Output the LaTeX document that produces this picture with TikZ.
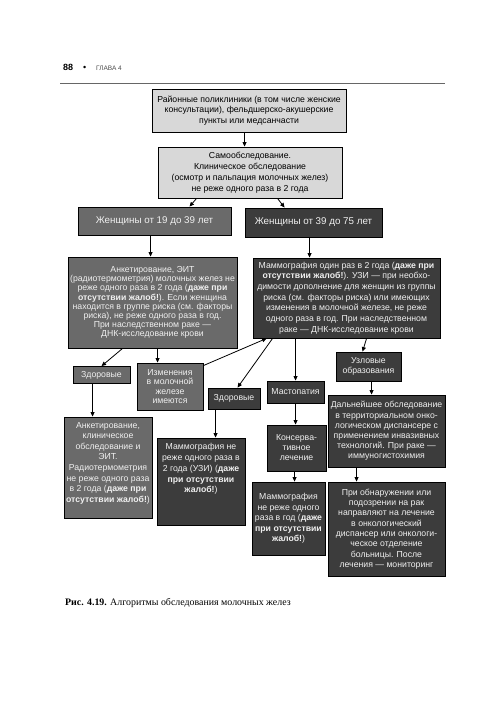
\documentclass[tikz,border=0pt]{standalone}
\usepackage{fontspec}
\setmainfont{Liberation Sans}
\newfontfamily\capfont{Liberation Serif}
\usetikzlibrary{arrows.meta}
\definecolor{lightbox}{HTML}{D8D8D8}
\definecolor{midbox}{HTML}{6A6A6A}
\definecolor{darkbox}{HTML}{3C3C3C}
\definecolor{boxtext}{HTML}{F0F0F0}
\begin{document}
\begin{tikzpicture}[x=1pt,y=-1pt,
  box/.style={draw=black, line width=0.9pt, inner sep=0pt, align=center, font=\fontsize{8.7}{10.5}\selectfont},
  lightb/.style={box, fill=lightbox, text=black},
  midb/.style={box, fill=midbox, text=boxtext},
  darkb/.style={box, fill=darkbox, text=boxtext},
  arr/.style={-{Triangle[length=4.5pt,width=4pt]}, line width=0.8pt},
  fs/.style={font=\fontsize{8.7}{#1}\selectfont}]
\useasboundingbox (0,0) rectangle (500,727);
\fill[white] (0,0) rectangle (500,727);
% header
\node[anchor=base west, inner sep=0pt, font=\bfseries\fontsize{9}{10}\selectfont] (pg) at (63,71) {88};
\node[anchor=base west, inner sep=0pt, font=\fontsize{9}{10}\selectfont] (bul) at (83,71) {•};
\node[anchor=base west, inner sep=0pt, font=\fontsize{6.5}{8}\selectfont, text=black!70] (ch) at (96,71) {ГЛАВА 4};
\draw[line width=0.5pt, black!60] (60,83) -- (445,83);
% boxes
\node[lightb, fs=10.5, minimum width=194pt, minimum height=43pt] (b1) at (249,110.5)
  {Районные поликлиники (в том числе женские\\консультации), фельдшерско-акушерские\\пункты или медсанчасти};
\node[lightb, fs=11, minimum width=184pt, minimum height=51pt] (b2) at (250,172.5)
  {Самообследование.\\Клиническое обследование\\(осмотр и пальпация молочных желез)\\не реже одного раза в 2 года};
\node[midb, font=\fontsize{9.8}{11}\selectfont, minimum width=153pt, minimum height=28pt] (w1) at (154.5,221)
  {Женщины от 19 до 39 лет};
\node[darkb, font=\fontsize{9.8}{11}\selectfont, minimum width=137pt, minimum height=29pt] (w2) at (313.5,222.5)
  {Женщины от 39 до 75 лет};
\node[midb, fs=9.2, minimum width=169pt, minimum height=91pt] (ank) at (152.5,302.5)
  {Анкетирование, ЭИТ\\(радиотермометрия) молочных желез не\\реже одного раза в 2 года (\textbf{даже при}\\\textbf{отсутствии жалоб!}). Если женщина\\находится в группе риска (см. факторы\\риска), не реже одного раза в год.\\При наследственном раке —\\ДНК-исследование крови};
\node[darkb, fs=10.7, minimum width=187pt, minimum height=80pt] (mam) at (346.5,298)
  {Маммография один раз в 2 года (\textbf{даже при}\\\textbf{отсутствии жалоб!}). УЗИ — при необхо-\\димости дополнение для женщин из группы\\риска (см. факторы риска) или имеющих\\изменения в молочной железе, не реже\\одного раза в год. При наследственном\\раке — ДНК-исследование крови};
\node[midb, minimum width=57pt, minimum height=17pt] (zd1) at (101.5,375) {Здоровые};
\node[midb, fs=9.5, minimum width=66pt, minimum height=47pt] (izm) at (170,386.5)
  {Изменения\\в молочной\\железе\\имеются};
\node[darkb, minimum width=52pt, minimum height=21pt] (zd2) at (234,398.5) {Здоровые};
\node[darkb, minimum width=57pt, minimum height=22pt] (mast) at (295.5,392) {Мастопатия};
\node[darkb, fs=10, minimum width=65pt, minimum height=29pt] (uzl) at (368.5,366.5)
  {Узловые\\образования};
\node[darkb, fs=10.2, minimum width=117pt, minimum height=72pt] (dal) at (386.5,431)
  {Дальнейшее обследование\\в территориальном онко-\\логическом диспансере с\\применением инвазивных\\технологий. При раке —\\иммуногистохимия};
\node[darkb, fs=10.3, minimum width=117pt, minimum height=94pt] (pri) at (386.5,529)
  {При обнаружении или\\подозрении на рак\\направляют на лечение\\в онкологический\\диспансер или онкологи-\\ческое отделение\\больницы. После\\лечения — мониторинг};
\node[midb, fs=10.6, minimum width=88pt, minimum height=101pt] (ank2) at (108,467.5)
  {Анкетирование,\\клиническое\\обследование и\\ЭИТ.\\Радиотермометрия\\не реже одного раза\\в 2 года (\textbf{даже при}\\\textbf{отсутствии жалоб!})\\\rule{0pt}{8pt}};
\node[darkb, fs=10.8, minimum width=88pt, minimum height=87pt] (mam2) at (201,481.5)
  {Маммография не\\реже одного раза в\\2 года (УЗИ) (\textbf{даже}\\\textbf{при отсутствии}\\\textbf{жалоб!})\\\rule{0pt}{24pt}};
\node[darkb, fs=10, minimum width=59pt, minimum height=46pt] (kons) at (296.5,448)
  {Консерва-\\тивное\\лечение};
\node[darkb, fs=10.5, minimum width=73pt, minimum height=73pt] (mam3) at (288.5,518.5)
  {Маммография\\не реже одного\\раза в год (\textbf{даже}\\\textbf{при отсутствии}\\\textbf{жалоб!})};
% connectors
\draw[arr] ([xshift=93pt]b1.south west) -- ([xshift=87pt]b2.north west);
\draw[arr] ([xshift=39pt]b2.south west) -- ([xshift=112pt]w1.north west);
\draw[arr] ([xshift=120pt]b2.south west) -- ([xshift=40pt]w2.north west);
\draw[arr] ([xshift=73pt]w1.south west) -- ([xshift=83pt]ank.north west);
\draw[arr] ([xshift=65pt]w2.south west) -- ([xshift=57pt]mam.north west);
\draw[arr] ([xshift=55pt]ank.south west) -- ([xshift=29pt]zd1.north west);
\draw[arr] ([xshift=90pt]ank.south west) -- ([xshift=21pt]izm.north west);
\draw[arr] ([yshift=-3pt]izm.north east) -- ([xshift=14pt]mam.south west);
\draw[arr] ([xshift=20pt]mam.south west) -- ([xshift=30pt]zd2.north west);
\draw[arr] ([xshift=43pt]mam.south west) -- ([xshift=29pt]mast.north west);
\draw[arr] ([xshift=114pt]mam.south west) -- ([xshift=27pt]uzl.north west);
\draw[arr] ([xshift=36pt]uzl.south west) -- ([xshift=44pt]dal.north west);
\draw[arr] ([xshift=29pt]dal.south west) -- ([xshift=29pt]pri.north west);
\draw[arr] ([xshift=20pt]zd1.south west) -- ([xshift=29pt]ank2.north west);
\draw[arr] ([xshift=8pt]zd2.south west) -- ([xshift=59pt]mam2.north west);
\draw[arr] ([xshift=29pt]mast.south west) -- ([xshift=29pt]kons.north west);
\draw[arr] ([xshift=28pt]kons.south west) -- ([xshift=43pt]mam3.north west);
% caption
\node[anchor=base west, inner sep=0pt, font=\capfont\fontsize{9.9}{11}\selectfont] (cap) at (65,605)
  {\textbf{Рис. 4.19.} Алгоритмы обследования молочных желез};
\end{tikzpicture}
\end{document}
